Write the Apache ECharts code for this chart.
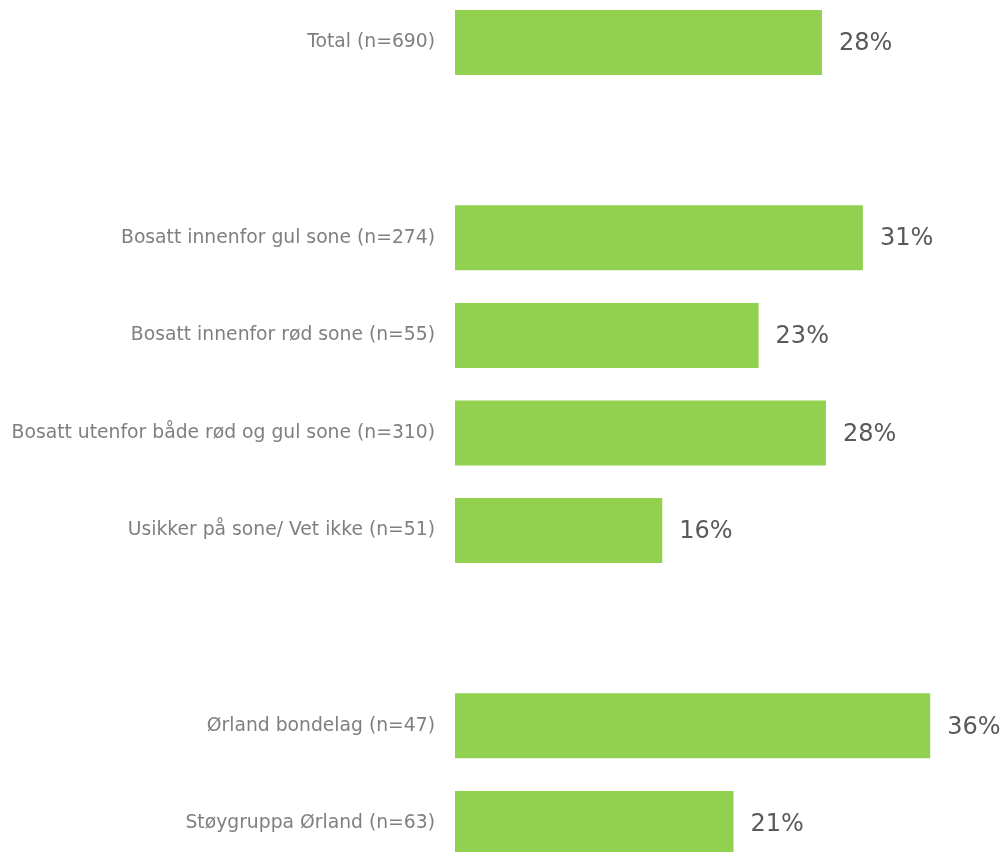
<!DOCTYPE html>
<html>
<head>
<meta charset="utf-8">
<script src="https://cdn.jsdelivr.net/npm/echarts@6/dist/echarts.min.js"></script>
<style>
html,body{margin:0;padding:0;background:#fff;}
#chart{width:1006px;height:852px;}
</style>
</head>
<body>
<div id="chart"></div>
<script>
const categories = [
  'Total (n=690)',
  '',
  'Bosatt innenfor gul sone (n=274)',
  'Bosatt innenfor rød sone (n=55)',
  'Bosatt utenfor både rød og gul sone (n=310)',
  'Usikker på sone/ Vet ikke (n=51)',
  ' ',
  'Ørland bondelag (n=47)',
  'Støygruppa Ørland (n=63)'
];
const values = [27.8, null, 30.9, 23.0, 28.1, 15.7, null, 36.0, 21.1];

const chart = echarts.init(document.getElementById('chart'));
chart.setOption({
  animation: false,
  backgroundColor: '#ffffff',
  grid: { left: 455, right: 23, top: -6.3, bottom: -20.3, outerBoundsMode: 'none', containLabel: false },
  xAxis: { type: 'value', min: 0, max: 40, show: false },
  yAxis: {
    type: 'category',
    data: categories,
    inverse: true,
    axisLine: { show: false },
    axisTick: { show: false },
    axisLabel: { color: '#7f7f7f', fontFamily: 'DejaVu Sans', fontSize: 18.75, margin: 20, padding: [2, 0, 0, 0] }
  },
  series: [{
    type: 'bar',
    data: values,
    barWidth: 65,
    itemStyle: { color: '#92D050' },
    label: {
      show: true,
      position: 'right',
      distance: 17,
      offset: [0, 1.5],
      color: '#595959',
      fontFamily: 'DejaVu Sans',
      fontSize: 24,
      formatter: p => p.value == null ? '' : Math.round(p.value) + '%'
    }
  }]
});
</script>
</body>
</html>
